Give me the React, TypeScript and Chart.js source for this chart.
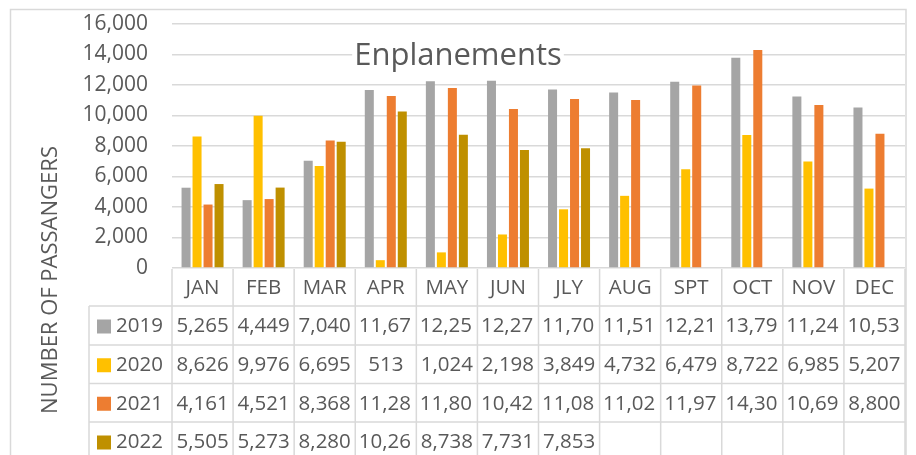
import React, { useEffect, useRef } from "react";
import { Chart, registerables } from "chart.js";

Chart.register(...registerables);

const categories = ["JAN", "FEB", "MAR", "APR", "MAY", "JUN", "JLY", "AUG", "SPT", "OCT", "NOV", "DEC"];
const seriesNames = ["2019", "2020", "2021", "2022"];
const values2019 = [5265, 4449, 7040, 11674, 12253, 12271, 11705, 11516, 12218, 13795, 11247, 10532];
const values2020 = [8626, 9976, 6695, 513, 1024, 2198, 3849, 4732, 6479, 8722, 6985, 5207];
const values2021 = [4161, 4521, 8368, 11284, 11806, 10427, 11083, 11024, 11975, 14302, 10694, 8800];
const values2022 = [5505, 5273, 8280, 10264, 8738, 7731, 7853, null, null, null, null, null];
const seriesColors = ["#A5A5A5", "#FFC000", "#ED7D31", "#BF9000"];
const yTicks = [0, 2000, 4000, 6000, 8000, 10000, 12000, 14000, 16000];
const chartTitle = "Enplanements";
const yAxisTitle = "NUMBER OF PASSANGERS";

const FONT = "'Open Sans', 'Noto Sans', sans-serif";
const TEXT = "#595959";
const LINE = "#D9D9D9";

const fmt = (v: number | null) => (v == null ? "" : v.toLocaleString("en-US"));

const decorPlugin = {
  id: "decor",
  beforeDraw(chart: any) {
    const ctx = chart.ctx;
    ctx.save();
    ctx.fillStyle = "#ffffff";
    ctx.fillRect(0, 0, chart.width, chart.height);
    ctx.strokeStyle = LINE;
    ctx.lineWidth = 1.5;
    ctx.strokeRect(10.5, 9.5, 895.5, 460);
    ctx.restore();
  },
  afterDraw(chart: any) {
    const ctx = chart.ctx;
    const area = chart.chartArea;
    const n = categories.length;
    const catW = (area.right - area.left) / n;
    const allSeries = [values2019, values2020, values2021, values2022];

    ctx.save();
    // title
    ctx.font = `31px ${FONT}`;
    const tw = ctx.measureText(chartTitle).width;
    const tcx = 458;
    ctx.fillStyle = "#ffffff";
    ctx.fillRect(tcx - tw / 2 - 2, 38, tw + 4, 28);
    ctx.fillStyle = TEXT;
    ctx.textAlign = "center";
    ctx.textBaseline = "alphabetic";
    ctx.fillText(chartTitle, tcx, 65);

    // y axis title
    ctx.save();
    ctx.translate(57, 280);
    ctx.rotate(-Math.PI / 2);
    ctx.font = `22px ${FONT}`;
    ctx.textAlign = "center";
    ctx.textBaseline = "alphabetic";
    ctx.fillStyle = TEXT;
    ctx.fillText(yAxisTitle, 0, 0);
    ctx.restore();

    // data table
    const headerTop = area.bottom + 1;
    const rowTops = [headerTop, 306, 345, 383.5, 422, 461];
    const legendLeft = 89;
    ctx.strokeStyle = LINE;
    ctx.lineWidth = 1.5;
    ctx.beginPath();
    for (let i = 0; i <= n; i++) {
      const x = area.left + i * catW;
      ctx.moveTo(x, headerTop);
      ctx.lineTo(x, chart.height + 5);
    }
    ctx.moveTo(legendLeft, rowTops[1]);
    ctx.lineTo(legendLeft, chart.height + 5);
    for (let r = 1; r < rowTops.length; r++) {
      ctx.moveTo(legendLeft, rowTops[r]);
      ctx.lineTo(area.right, rowTops[r]);
    }
    ctx.stroke();

    ctx.font = `20.5px ${FONT}`;
    ctx.fillStyle = TEXT;
    ctx.textBaseline = "middle";
    ctx.textAlign = "center";
    for (let i = 0; i < n; i++) {
      const cx = area.left + (i + 0.5) * catW;
      ctx.fillText(categories[i], cx, (rowTops[0] + rowTops[1]) / 2 + 1);
    }
    for (let s = 0; s < allSeries.length; s++) {
      const cy = (rowTops[s + 1] + rowTops[s + 2]) / 2 + 1;
      ctx.fillStyle = seriesColors[s];
      ctx.fillRect(97, cy - 7, 14, 14);
      ctx.fillStyle = TEXT;
      ctx.textAlign = "left";
      ctx.fillText(seriesNames[s], 116, cy);
      for (let i = 0; i < n; i++) {
        let txt = fmt(allSeries[s][i]);
        if (!txt) continue;
        const left = area.left + i * catW;
        const avail = catW - 6;
        if (ctx.measureText(txt).width > avail) {
          while (txt.length > 0 && ctx.measureText(txt).width > avail) txt = txt.slice(0, -1);
          ctx.textAlign = "left";
          ctx.fillText(txt, left + 3.5, cy);
        } else {
          ctx.textAlign = "center";
          ctx.fillText(txt, left + catW / 2, cy);
        }
      }
    }
    ctx.restore();
  },
};

export default function App() {
  const ref = useRef<HTMLCanvasElement | null>(null);
  useEffect(() => {
    if (!ref.current) return;
    const allSeries = [values2019, values2020, values2021, values2022];
    const chart = new Chart(ref.current, {
      type: "bar",
      data: {
        labels: categories,
        datasets: seriesNames.map((name, i) => ({
          label: name,
          data: allSeries[i],
          backgroundColor: seriesColors[i],
          borderWidth: 0,
          categoryPercentage: 0.72,
          barPercentage: 0.82,
        })),
      },
      options: {
        responsive: false,
        animation: false,
        layout: { padding: { left: 0, top: 24, right: 11, bottom: 187 } },
        plugins: {
          legend: { display: false },
          title: { display: false },
          tooltip: { enabled: false },
        },
        scales: {
          x: { display: false },
          y: {
            min: 0,
            max: 16000,
            afterBuildTicks: (s: any) => {
              s.ticks = yTicks.map((v) => ({ value: v }));
            },
            afterFit: (s: any) => {
              s.width = 172;
              s.paddingTop = 0;
              s.paddingBottom = 0;
            },
            border: { display: false },
            grid: { color: LINE, lineWidth: 1.5, drawTicks: false },
            ticks: {
              padding: 24,
              color: TEXT,
              font: { family: FONT, size: 21 },
              callback: (v: any) => Number(v).toLocaleString("en-US"),
            },
          },
        },
      },
      plugins: [decorPlugin],
    });
    return () => chart.destroy();
  }, []);
  return (
    <div style={{ position: "absolute", left: 0, top: 0, width: 916, height: 455 }}>
      <canvas ref={ref} width={916} height={455} style={{ display: "block" }} />
    </div>
  );
}
